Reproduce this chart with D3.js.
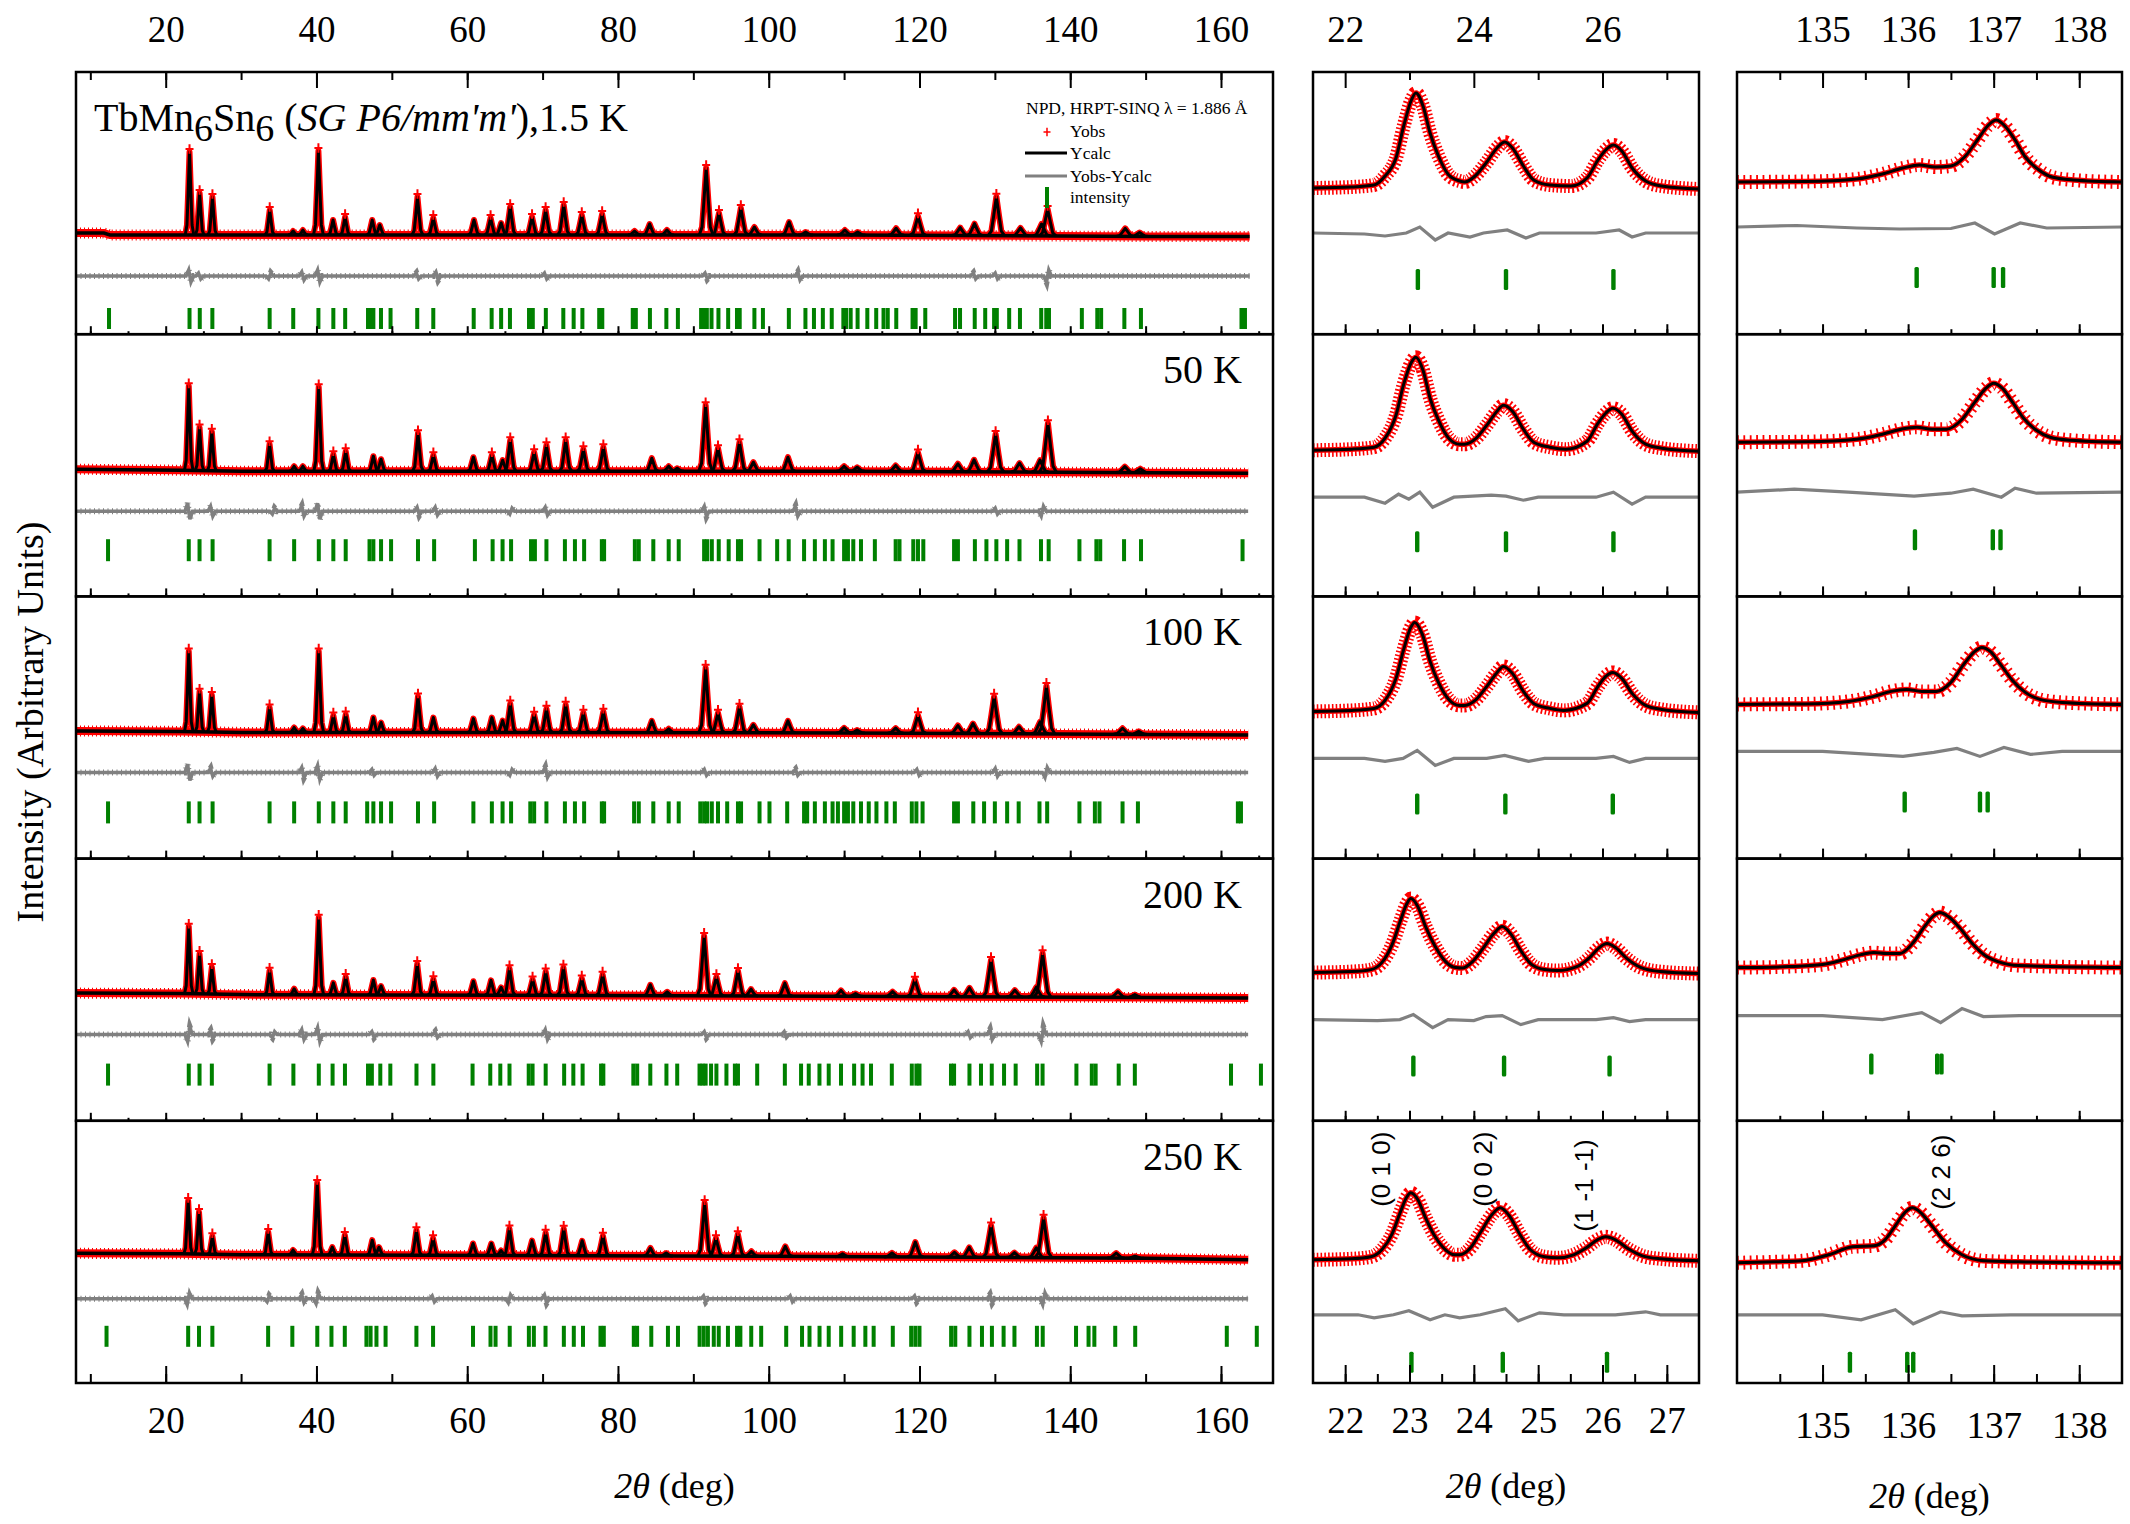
<!DOCTYPE html>
<html>
<head>
<meta charset="utf-8">
<script src="https://cdn.jsdelivr.net/npm/d3@7"></script>
<style>
  body { margin: 0; background: #fff; }
  svg { display: block; }
  text { font-family: "Liberation Serif", "Times New Roman", serif; fill: #000; }
</style>
</head>
<body>
<svg id="chart" width="2130" height="1524"></svg>
<script>
// ---------- data (intensities in arbitrary units, angles in degrees) ----------
const temps = ['1.5 K', '50 K', '100 K', '200 K', '250 K'];

// full-range patterns: [2theta, peak height above background]
const peaks1 = [[23.16,83],[24.5,42],[26.2,38],[33.8,25],[36.9,4],[38.2,5],[40.26,84],[42.2,15],[43.8,18],[47.4,15],[48.4,10],[53.4,38],[55.5,17],[60.9,15],[63.1,17],[64.5,12],[65.7,28],[68.6,18],[70.4,25],[72.8,30],[75.2,20],[77.9,21],[82.2,4],[84.2,11],[86.5,5],[91.7,67],[93.4,22],[96.3,27],[98.1,8],[102.7,13],[104.9,3],[110.1,5],[111.8,3],[116.9,7],[119.8,19],[125.4,8],[127.3,12],[130.2,39],[133.4,8],[136.2,12],[137.0,27],[147.3,8],[149.2,4]];
const peaks2 = [[23.06,84],[24.49,43],[26.12,39],[33.78,27],[37.04,5],[38.2,5],[40.3,84],[42.24,17],[43.88,20],[47.55,15],[48.57,12],[53.47,38],[55.51,16],[60.82,14],[63.27,16],[64.7,11],[65.71,31],[68.88,19],[70.51,26],[73.06,31],[75.41,22],[78.06,24],[84.49,13],[86.73,5],[87.86,3],[91.63,66],[93.27,23],[96.12,29],[97.96,9],[102.55,14],[110.0,5],[111.73,4],[116.84,6],[119.8,19],[125.1,8],[127.24,12],[130.1,38],[133.27,9],[136.0,12],[137.04,49],[147.24,6],[149.29,4]];
const peaks3 = [[23.06,80],[24.49,40],[26.12,37],[33.78,25],[37.04,5],[38.2,4],[40.3,81],[42.24,17],[43.88,18],[47.55,15],[48.57,10],[53.47,36],[55.51,15],[60.82,14],[63.27,15],[64.7,12],[65.71,29],[68.88,18],[70.51,24],[73.06,28],[75.41,20],[78.06,21],[84.49,12],[86.73,4],[91.63,65],[93.27,20],[96.12,26],[97.96,8],[102.55,12],[110.0,5],[111.73,3],[116.84,5],[119.8,18],[125.1,8],[127.1,10],[129.9,37],[133.2,7],[136.0,12],[136.84,48],[146.94,6],[149.08,3]];
const peaks4 = [[23.06,67],[24.49,40],[26.12,27],[33.78,24],[37.04,6],[40.3,77],[42.24,12],[43.88,18],[47.55,15],[48.57,9],[53.37,31],[55.51,16],[60.82,14],[63.16,15],[64.5,8],[65.61,27],[68.67,16],[70.41,24],[72.76,28],[75.2,17],[77.96,21],[84.29,11],[86.53,4],[91.43,60],[93.06,19],[95.92,25],[97.65,7],[102.14,13],[109.59,6],[111.53,3],[116.43,5],[119.39,17],[124.59,7],[126.63,9],[129.49,37],[132.65,7],[135.5,10],[136.33,44],[146.33,6],[148.57,3]];
const peaks5 = [[22.98,53],[24.42,42],[26.19,18],[33.6,23],[36.9,5],[40.1,72],[42.1,8],[43.76,20],[47.4,15],[48.3,8],[53.26,25],[55.47,17],[60.77,12],[63.2,12],[64.5,5],[65.6,27],[68.6,15],[70.4,23],[72.8,27],[75.25,15],[78.0,20],[84.3,8],[86.4,3],[91.5,53],[93.0,18],[95.9,22],[97.7,5],[102.2,10],[109.8,3],[116.35,4],[119.45,15],[124.64,5],[126.6,10],[129.5,32],[132.6,5],[135.5,10],[136.46,40],[146.1,5],[148.6,2]];

// background level along 2theta
const bg1 = [[8.1,2],[11.8,2],[12.6,0],[110,0],[150,-1.5],[163.8,-1.5]];
const bg2 = [[8.1,2],[22,1],[30,0],[110,0],[150,-1.5],[163.6,-2]];
const bg3 = [[8.1,1.5],[22,1],[30,0],[110,-0.5],[150,-2],[163.6,-2.5]];
const bg4 = [[8.1,1.5],[22,1],[30,0],[100,-1.5],[150,-3],[163.6,-3.5]];
const bg5 = [[8.1,1.5],[22,1],[30,0],[100,-1.5],[150,-3.5],[163.6,-5]];

// largest Yobs-Ycalc excursions: [2theta, amplitude]
const diff1 = [[23.2,6],[24.5,3],[33.8,-3],[38.2,4],[40.3,6],[53.4,3],[56,4],[70.4,3],[91.7,3],[104,4],[127.3,3],[130.2,3],[137,-6]];
const diff2 = [[23.06,8],[26.1,5],[34.3,-3],[38.2,5],[40.3,8],[53.5,4],[55.9,4],[65.8,-3],[70.5,4],[91.6,5],[103.7,5],[130.2,3],[136.3,-5]];
const diff3 = [[23.06,8],[26.1,4],[38.2,5],[40.3,7],[47.5,3],[55.9,4],[65.8,-3],[70.5,5],[91.6,3],[103.7,3],[119.8,3],[130.2,4],[136.8,-5]];
const diff4 = [[23.06,-7],[26.1,4],[34.3,-3],[38.2,5],[40.3,7],[47.5,3],[55.9,3],[70.5,5],[91.6,3],[102.2,3],[126.6,3],[129.5,5],[136.3,-7]];
const diff5 = [[23.0,-6],[33.6,-3],[38.2,4],[40.1,-5],[55.5,3],[65.6,-4],[70.4,4],[91.5,3],[103,3],[119.5,3],[129.5,4],[136.5,-6]];

// Bragg reflection positions
const refl1 = [12.48,23.16,24.52,26.19,33.79,36.92,40.26,42.24,43.81,46.84,47.2,47.55,48.56,49.83,53.37,55.5,60.86,63.24,64.5,65.67,68.2,68.7,70.43,72.75,74.12,75.28,77.51,77.92,81.96,82.37,84.24,86.42,87.95,91.03,91.38,91.79,92.41,93.33,94.62,95.79,96.15,98.1,99.23,102.67,104.87,106.0,107.18,108.36,109.9,110.26,110.87,111.79,113.08,114.26,115.23,115.79,116.92,119.08,119.49,120.77,124.72,125.38,127.33,128.72,129.9,130.26,131.9,133.33,136.15,136.82,137.18,141.54,143.59,144.1,147.18,149.38,162.72,163.18];
const refl2 = [12.35,23.06,24.49,26.22,33.78,37.04,40.31,42.24,43.88,47.04,47.55,48.57,49.9,53.47,55.61,61.02,63.37,64.69,65.82,68.47,68.98,70.51,72.96,74.29,75.51,77.86,78.16,82.24,82.76,84.69,86.73,88.06,91.43,91.84,92.45,93.37,94.69,95.92,96.33,98.78,101.12,102.65,104.69,106.12,107.45,108.47,110.0,110.51,111.22,112.24,114.08,116.84,117.35,119.18,119.8,120.51,124.59,125.1,127.35,128.88,130.2,131.63,133.27,136.12,137.14,141.22,143.47,143.98,147.14,149.39,162.86];
const refl3 = [12.35,23.06,24.49,26.22,33.78,37.04,40.31,42.24,43.88,46.73,47.55,48.57,49.9,53.47,55.61,60.82,63.27,64.69,65.82,68.37,68.88,70.51,72.96,74.29,75.51,77.86,78.16,82.14,82.76,84.69,86.73,88.06,90.92,91.43,91.84,92.45,93.27,94.49,95.92,96.33,98.78,100.1,102.45,104.69,105.1,106.12,107.45,108.47,109.18,110.0,110.51,111.22,112.24,113.27,114.29,115.61,116.73,118.98,119.59,120.41,124.59,125.1,127.14,128.57,130.0,131.63,133.16,135.92,136.94,141.22,143.27,143.88,146.94,148.98,162.24,162.65];
const refl4 = [12.35,23.06,24.49,26.12,33.78,36.94,40.31,42.14,43.78,46.84,47.35,48.47,49.8,53.27,55.51,60.71,63.06,64.39,65.61,68.16,68.67,70.41,72.86,74.08,75.31,77.76,78.06,82.04,82.55,84.29,86.43,87.86,90.82,91.22,91.63,92.35,93.06,94.39,95.51,95.92,98.47,102.14,104.29,105.31,106.73,107.96,109.59,111.33,112.45,113.57,116.33,118.98,119.59,120.0,124.18,124.59,126.63,128.16,129.59,131.22,132.76,135.61,136.33,140.82,142.86,143.37,146.43,148.57,161.33,165.3];
const refl5 = [12.15,22.98,24.42,26.19,33.59,36.8,40.11,41.99,43.76,46.63,47.18,47.96,49.17,53.26,55.47,60.77,63.09,63.76,65.64,68.18,68.84,70.39,72.82,74.14,75.36,77.68,78.12,82.1,82.54,84.42,86.63,87.96,90.83,91.38,91.93,92.71,93.37,94.59,95.8,96.24,97.68,99.0,102.32,104.42,105.41,106.74,107.96,109.61,111.27,112.82,113.92,116.46,118.9,119.45,120.0,124.2,124.75,126.63,128.29,129.61,131.16,132.6,135.58,136.35,140.77,142.43,143.2,145.97,148.62,160.77,164.75];

// zoom 21.5-27.5 deg: [2theta, intensity above background]
const mid1 = [[21.5,0],[22.1,1],[22.45,3],[22.62,12],[22.79,30],[22.91,62],[23.03,88],[23.1,95],[23.21,82],[23.32,55],[23.45,32],[23.61,13],[23.78,7],[23.86,6],[24.02,12],[24.19,25],[24.36,40],[24.48,46],[24.6,40],[24.77,22],[24.93,8],[25.18,3],[25.51,2],[25.76,10],[25.93,28],[26.05,38],[26.17,43],[26.3,37],[26.46,20],[26.67,7],[26.92,2],[27.5,-1]];
const mid2 = [[21.5,0],[22.1,1],[22.45,3],[22.62,12],[22.79,35],[22.91,66],[23.03,88],[23.1,93],[23.21,80],[23.32,52],[23.45,30],[23.61,12],[23.78,6],[23.86,6],[24.02,11],[24.19,24],[24.36,39],[24.46,45],[24.6,39],[24.77,21],[24.93,8],[25.18,3],[25.43,1],[25.76,9],[25.93,27],[26.05,37],[26.16,42],[26.3,36],[26.46,19],[26.67,6],[26.92,2],[27.5,-1]];
const mid3 = [[21.5,0],[22.1,1],[22.45,3],[22.62,11],[22.79,33],[22.91,62],[23.02,84],[23.08,89],[23.2,77],[23.32,50],[23.45,29],[23.61,12],[23.78,6],[23.86,6],[24.02,11],[24.19,24],[24.35,38],[24.46,45],[24.6,38],[24.77,20],[24.93,8],[25.18,3],[25.4,1],[25.76,8],[25.93,25],[26.05,35],[26.16,39],[26.3,33],[26.46,18],[26.67,6],[26.92,2],[27.5,-1]];
const mid4 = [[21.5,0],[22.1,1],[22.4,3],[22.57,10],[22.73,28],[22.86,52],[22.96,69],[23.02,74],[23.13,66],[23.25,46],[23.4,26],[23.56,11],[23.72,5],[23.82,4.5],[23.98,11],[24.14,24],[24.31,39],[24.44,46],[24.57,39],[24.74,21],[24.9,8],[25.1,3],[25.3,2],[25.6,6],[25.8,15],[25.95,25],[26.07,29],[26.2,25],[26.38,14],[26.6,5],[26.9,1],[27.5,-1]];
const mid5 = [[21.5,0],[22.1,1],[22.4,3],[22.57,10],[22.73,26],[22.86,48],[22.96,63],[23.02,67],[23.13,60],[23.25,42],[23.4,23],[23.56,10],[23.7,5],[23.78,5],[23.95,12],[24.1,27],[24.28,45],[24.41,52],[24.54,45],[24.72,25],[24.88,10],[25.1,3],[25.3,2],[25.55,5],[25.75,12],[25.92,20],[26.05,23],[26.2,20],[26.4,11],[26.62,4],[26.9,1],[27.5,-1]];
const midDiff1 = [[21.5,0],[22.3,-1],[22.62,-3],[22.95,0],[23.16,6],[23.4,-7],[23.6,0],[23.94,-4],[24.15,0],[24.52,3],[24.81,-5],[25.02,0],[25.9,0],[26.26,3],[26.46,-4],[26.67,0],[27.5,0]];
const midDiff2 = [[21.5,0],[22.3,0],[22.62,-6],[22.83,3],[22.99,-2],[23.16,5],[23.36,-10],[23.69,0],[24.27,2],[24.5,1],[24.77,-3],[25.0,0],[25.9,0],[26.17,5],[26.46,-7],[26.67,0],[27.5,0]];
const midDiff3 = [[21.5,0],[22.3,0],[22.62,-3],[22.9,0],[23.12,8],[23.4,-7],[23.69,0],[24.2,0],[24.48,3],[24.85,-3],[25.1,0],[25.9,0],[26.17,2],[26.42,-4],[26.67,0],[27.5,0]];
const midDiff4 = [[21.5,0],[22.5,-1],[22.85,0],[23.06,5],[23.36,-8],[23.6,0],[24.0,-1],[24.19,3],[24.44,4],[24.73,-5],[25.0,0],[25.9,0],[26.17,2],[26.42,-2],[26.67,0],[27.5,0]];
const midDiff5 = [[21.5,0],[22.2,0],[22.45,-3],[22.75,0],[22.99,4],[23.32,-5],[23.55,0],[23.78,-3],[24.1,0],[24.49,6],[24.69,-6],[25.02,2],[25.4,0],[26.2,0],[26.67,3],[26.9,0],[27.5,0]];
const midRefl = [[23.13,24.5,26.17],[23.12,24.5,26.17],[23.12,24.49,26.16],[23.06,24.47,26.11],[23.03,24.45,26.07]];

// zoom 134-138.5 deg
const rt1 = [[134,0],[134.8,0.5],[135.4,3],[135.7,8],[135.94,14],[136.13,17],[136.32,15],[136.5,16],[136.66,25],[136.81,42],[136.94,57],[137.03,62],[137.12,57],[137.25,42],[137.37,25],[137.53,12],[137.68,5],[137.93,2],[138.5,0]];
const rt2 = [[134,0],[134.8,0.5],[135.4,3],[135.7,8],[135.92,13],[136.1,15],[136.28,13],[136.45,13],[136.62,22],[136.78,40],[136.91,54],[137.0,59],[137.1,54],[137.22,40],[137.35,24],[137.5,12],[137.66,5],[137.9,2],[138.5,0]];
const rt3 = [[134,0],[134.8,0.5],[135.3,3],[135.6,8],[135.8,13],[135.98,15],[136.16,13],[136.33,13],[136.5,22],[136.65,40],[136.78,53],[136.86,57],[136.96,53],[137.08,40],[137.22,24],[137.37,12],[137.54,5],[137.8,2],[138.5,0]];
const rt4 = [[134,0],[134.6,1],[135.0,3],[135.25,8],[135.45,13],[135.6,15],[135.75,14],[135.9,14],[136.05,24],[136.2,42],[136.3,52],[136.37,55],[136.47,51],[136.6,40],[136.75,24],[136.9,12],[137.05,6],[137.3,2],[138.5,0]];
const rt5 = [[134,0],[134.45,1],[134.76,2],[135.07,8],[135.35,16],[135.6,17],[135.73,23],[135.85,37],[135.97,51],[136.05,55],[136.15,50],[136.25,40],[136.44,20],[136.63,8],[136.88,2],[137.3,1],[138.5,0]];
const rtDiff1 = [[134,0],[134.7,1.5],[135.4,-1],[135.9,-2],[136.5,-1.5],[136.78,4],[137.01,-7],[137.31,4],[137.62,-1],[138.5,0]];
const rtDiff2 = [[134,0],[134.67,3],[135.3,0],[136.07,-4],[136.5,-1],[136.76,3],[137.09,-5],[137.25,4],[137.5,-1],[138.5,0]];
const rtDiff3 = [[134,0],[135,0],[135.94,-5],[136.3,-1],[136.57,3],[136.84,-5],[137.12,4],[137.43,-3],[137.8,0],[138.5,0]];
const rtDiff4 = [[134,0],[135,0],[135.7,-4],[136.16,3],[136.38,-7],[136.63,7],[136.88,-1],[137.3,0],[138.5,0]];
const rtDiff5 = [[134,0],[135,0],[135.45,-5],[135.85,5],[136.06,-9],[136.38,3],[136.63,-1],[137.2,0],[138.5,0]];
const rtRefl = [[136.1,137.0,137.11],[136.08,136.99,137.08],[135.96,136.84,136.93],[135.57,136.34,136.39],[135.32,135.99,136.06]];

const hklMid = ['(0 1 0)', '(0 0 2)', '(1 -1 -1)'];
const hklRight = ['(2 2 6)'];

// ---------- layout ----------
const RED = '#ff0000', GREY = '#808080', GREEN = '#008000';
const ROW_TOP = 72, ROW_H = 262.2;
const rowTop = r => ROW_TOP + r * ROW_H;

const LEFT = { x: [76, 1273], dom: [8.1, 166.9], base: [163,137,136,136,134], res: [204,177,176,176,178],
               tk: [[236,257],[205,227],[205,227],[205,227],[205,226]] };
const MID = { x: [1313, 1699], dom: [21.5, 27.5], base: [116,116,115,114,139], res: [161,163,162,161,194],
              tk: [[197,218],[197,218],[197,218],[197,218],[231,252]] };
const RIGHT = { x: [1737, 2122], dom: [134, 138.5], base: [110,108,108,109,142], res: [155,158,155,157,194],
                tk: [[195,216],[195,216],[195,216],[195,216],[231,252]] };

const rows = [
  { peaks: peaks1, bg: bg1, diff: diff1, refl: refl1, mid: mid1, midDiff: midDiff1, rt: rt1, rtDiff: rtDiff1 },
  { peaks: peaks2, bg: bg2, diff: diff2, refl: refl2, mid: mid2, midDiff: midDiff2, rt: rt2, rtDiff: rtDiff2 },
  { peaks: peaks3, bg: bg3, diff: diff3, refl: refl3, mid: mid3, midDiff: midDiff3, rt: rt3, rtDiff: rtDiff3 },
  { peaks: peaks4, bg: bg4, diff: diff4, refl: refl4, mid: mid4, midDiff: midDiff4, rt: rt4, rtDiff: rtDiff4 },
  { peaks: peaks5, bg: bg5, diff: diff5, refl: refl5, mid: mid5, midDiff: midDiff5, rt: rt5, rtDiff: rtDiff5 }
];

const svg = d3.select('#chart');

const xL = d3.scaleLinear().domain(LEFT.dom).range(LEFT.x);
const xM = d3.scaleLinear().domain(MID.dom).range(MID.x);
const xR = d3.scaleLinear().domain(RIGHT.dom).range(RIGHT.x);

// y scale of one row: background (0) sits "base" px below row top
function rowScale(r, base) {
  const t = rowTop(r);
  return d3.scaleLinear().domain([base - ROW_H, base]).range([t + ROW_H, t]);
}

// clip paths per panel
[['clipL', LEFT], ['clipM', MID], ['clipR', RIGHT]].forEach(([id, p]) => {
  svg.append('clipPath').attr('id', id).append('rect')
    .attr('x', p.x[0]).attr('y', ROW_TOP).attr('width', p.x[1] - p.x[0]).attr('height', ROW_H * 5);
});

// peak profile used for the stick-like peaks of the wide panel
const SHAPE = [[-1,0],[-0.6,0.12],[-0.33,0.5],[0,1],[0.33,0.5],[0.6,0.12],[1,0]];
const halfWidth = p => 0.55 + 0.005 * (p - 20);

const crossPath = s => `M${-s},0H${s}M0,${-s * 1.2}V${s * 1.2}`;

function drawLeft(r) {
  const row = rows[r];
  const y = rowScale(r, LEFT.base[r]);
  const g = svg.append('g').attr('clip-path', 'url(#clipL)');
  const bgFn = d3.scaleLinear().domain(row.bg.map(d => d[0])).range(row.bg.map(d => d[1]));
  const line = d3.line().x(d => xL(d[0])).y(d => y(d[1]));
  const spike = p => SHAPE.map(s => {
    const t = p[0] + s[0] * halfWidth(p[0]);
    return [t, bgFn(t) + s[1] * p[1]];
  });

  // Yobs (red band of crosses)
  g.append('path').datum(row.bg).attr('d', line)
    .attr('fill', 'none').attr('stroke', RED).attr('stroke-width', 8);
  g.append('path').datum(row.bg).attr('d', line)
    .attr('fill', 'none').attr('stroke', RED).attr('stroke-width', 11)
    .attr('stroke-dasharray', '1,3');
  g.selectAll('.obs').data(row.peaks).join('path').attr('class', 'obs')
    .attr('d', p => line(spike(p))).attr('fill', 'none')
    .attr('stroke', RED).attr('stroke-width', 6).attr('stroke-linejoin', 'round');

  // Ycalc
  g.append('path').datum(row.bg).attr('d', line)
    .attr('fill', 'none').attr('stroke', '#000').attr('stroke-width', 3.5);
  g.selectAll('.calc').data(row.peaks).join('path').attr('class', 'calc')
    .attr('d', p => line(spike(p))).attr('fill', 'none')
    .attr('stroke', '#000').attr('stroke-width', 3).attr('stroke-linejoin', 'round');

  // red crosses on the peak tops
  g.selectAll('.top').data(row.peaks.filter(p => p[1] > 15)).join('path').attr('class', 'top')
    .attr('transform', p => `translate(${xL(p[0])},${y(bgFn(p[0]) + p[1]) - 3})`)
    .attr('d', crossPath(4)).attr('stroke', RED).attr('stroke-width', 2);

  // Yobs - Ycalc
  const lvl = LEFT.base[r] - LEFT.res[r];
  const dpts = [[LEFT.dom[0], 0]];
  row.diff.slice().sort((a, b) => a[0] - b[0]).forEach(([p, a]) => {
    dpts.push([p - 0.5, 0], [p - 0.15, a], [p + 0.15, -a], [p + 0.5, 0]);
  });
  dpts.push([row.bg[row.bg.length - 1][0], 0]);
  const dline = d3.line().x(d => xL(d[0])).y(d => y(lvl + d[1]));
  g.append('path').datum(dpts).attr('d', dline)
    .attr('fill', 'none').attr('stroke', GREY).attr('stroke-width', 3.5);
  g.append('path').datum(dpts).attr('d', dline)
    .attr('fill', 'none').attr('stroke', GREY).attr('stroke-width', 6)
    .attr('stroke-dasharray', '1,3.5');

  // Bragg positions
  const [t0, t1] = LEFT.tk[r];
  g.selectAll('.refl').data(row.refl).join('rect').attr('class', 'refl')
    .attr('x', d => xL(d) - 2).attr('width', 4)
    .attr('y', rowTop(r) + t0).attr('height', t1 - t0).attr('fill', GREEN);
}

function drawZoom(r, P, x, prof, diff, refl, dash) {
  const y = rowScale(r, P.base[r]);
  const g = svg.append('g').attr('clip-path', P === MID ? 'url(#clipM)' : 'url(#clipR)');
  const line = d3.line().x(d => x(d[0])).y(d => y(d[1])).curve(d3.curveMonotoneX);

  // Yobs crosses: thin band plus perpendicular bars
  g.append('path').datum(prof).attr('d', line).attr('fill', 'none')
    .attr('stroke', RED).attr('stroke-width', 5.5);
  g.append('path').datum(prof).attr('d', line).attr('fill', 'none')
    .attr('stroke', RED).attr('stroke-width', 14).attr('stroke-dasharray', dash);
  // Ycalc
  g.append('path').datum(prof).attr('d', line).attr('fill', 'none')
    .attr('stroke', '#000').attr('stroke-width', 3);

  const lvl = P.base[r] - P.res[r];
  g.append('path').datum(diff)
    .attr('d', d3.line().x(d => x(d[0])).y(d => y(lvl + d[1])))
    .attr('fill', 'none').attr('stroke', GREY).attr('stroke-width', 3.2);

  const [t0, t1] = P.tk[r];
  g.selectAll('.refl').data(refl).join('rect').attr('class', 'refl')
    .attr('x', d => x(d) - 2.2).attr('width', 4.4)
    .attr('y', rowTop(r) + t0).attr('height', t1 - t0).attr('rx', 1.5).attr('fill', GREEN);
}

// axis helper: ticks point into the frame
function axis(orient, x, yPos, values, len, labels, pad) {
  const ax = (orient === 'top' ? d3.axisTop(x) : d3.axisBottom(x))
    .tickValues(values).tickSizeInner(-len).tickSizeOuter(0).tickPadding(pad)
    .tickFormat(labels ? d3.format('d') : () => '');
  const g = svg.append('g').attr('transform', `translate(0,${yPos})`).call(ax);
  g.select('.domain').remove();
  g.selectAll('line').attr('stroke', '#000').attr('stroke-width', 2);
  g.attr('font-family', null).attr('font-size', null);
  g.selectAll('text').attr('font-size', 37).attr('fill', '#000');
  return g;
}

const inner = (d, p) => d > p.dom[0] + 1e-6 && d < p.dom[1] - 1e-6;

// ---------- rows ----------
for (let r = 0; r < 5; r++) {
  drawLeft(r);
  drawZoom(r, MID, xM, rows[r].mid, rows[r].midDiff, midRefl[r], '1.6,2.2');
  drawZoom(r, RIGHT, xR, rows[r].rt, rows[r].rtDiff, rtRefl[r], '1.8,4.6');

  const bot = rowTop(r + 1);
  if (r < 4) {
    axis('bottom', xL, bot, d3.range(10, 166, 10), 8, false, 0);
    axis('bottom', xL, bot, d3.range(10, 166, 5), 3, false, 0);
    axis('bottom', xM, bot, d3.range(22, 28, 1), 10, false, 0);
    axis('bottom', xM, bot, d3.range(21.5, 27.6, 0.5).filter(d => inner(d, MID)), 5, false, 0);
    axis('bottom', xR, bot, d3.range(135, 139, 1), 10, false, 0);
    axis('bottom', xR, bot, d3.range(134, 138.6, 0.5).filter(d => inner(d, RIGHT)), 5, false, 0);
  }
}

// top axes (with labels)
const topY = ROW_TOP;
axis('top', xL, topY, d3.range(10, 166, 10), 8, false, 30);
axis('top', xL, topY, d3.range(20, 161, 20), 16, true, 30);
axis('top', xM, topY, [23, 25, 27], 8, false, 30);
axis('top', xM, topY, [22, 24, 26], 16, true, 30);
axis('top', xR, topY, d3.range(134, 138.6, 0.5).filter(d => inner(d, RIGHT)), 8, false, 30);
axis('top', xR, topY, [135, 136, 137, 138], 16, true, 30);

// bottom axes (with labels)
const bottomY = rowTop(5);
axis('bottom', xL, bottomY, d3.range(10, 166, 10), 9, false, 24);
axis('bottom', xL, bottomY, d3.range(20, 161, 20), 17, true, 24);
axis('bottom', xM, bottomY, d3.range(21.5, 27.6, 0.5).filter(d => inner(d, MID)), 9, false, 24);
axis('bottom', xM, bottomY, d3.range(22, 28, 1), 18, true, 24);
axis('bottom', xR, bottomY, d3.range(134, 138.6, 0.5).filter(d => inner(d, RIGHT)), 9, false, 29);
axis('bottom', xR, bottomY, [135, 136, 137, 138], 18, true, 29);

// frames
[LEFT, MID, RIGHT].forEach(p => {
  svg.append('g').selectAll('rect').data(d3.range(5)).join('rect')
    .attr('x', p.x[0]).attr('y', r => rowTop(r))
    .attr('width', p.x[1] - p.x[0]).attr('height', ROW_H)
    .attr('fill', 'none').attr('stroke', '#000').attr('stroke-width', 2.5);
});

// ---------- texts ----------
const title = svg.append('text').attr('x', 94).attr('y', 131).attr('font-size', 40);
title.append('tspan').text('TbMn');
title.append('tspan').attr('dy', 10).attr('font-size', 38).text('6');
title.append('tspan').attr('dy', -10).text('Sn');
title.append('tspan').attr('dy', 10).attr('font-size', 38).text('6');
title.append('tspan').attr('dy', -10).text(' (');
title.append('tspan').attr('font-style', 'italic').text("SG P6/mm'm'");
title.append('tspan').text('),' + temps[0]);

svg.selectAll('.temp').data(temps.slice(1)).join('text').attr('class', 'temp')
  .attr('x', 1242).attr('y', (d, i) => rowTop(i + 1) + 49)
  .attr('text-anchor', 'end').attr('font-size', 40).text(d => d);

// legend
const lg = svg.append('g');
lg.append('text').attr('x', 1026).attr('y', 114).attr('font-size', 17.5)
  .text('NPD, HRPT-SINQ \u03bb = 1.886 \u00c5');
lg.append('path').attr('transform', 'translate(1047,132)').attr('d', crossPath(3.5))
  .attr('stroke', RED).attr('stroke-width', 1.5);
lg.append('line').attr('x1', 1025).attr('x2', 1067).attr('y1', 153).attr('y2', 153)
  .attr('stroke', '#000').attr('stroke-width', 3);
lg.append('line').attr('x1', 1025).attr('x2', 1067).attr('y1', 176).attr('y2', 176)
  .attr('stroke', GREY).attr('stroke-width', 3);
lg.append('rect').attr('x', 1045).attr('y', 187).attr('width', 4).attr('height', 21).attr('fill', GREEN);
['Yobs', 'Ycalc', 'Yobs-Ycalc', 'intensity'].forEach((t, i) => {
  lg.append('text').attr('x', 1070).attr('y', [137, 159, 182, 203][i]).attr('font-size', 17.5).text(t);
});

// Miller indices
const hklPos = [[22.55, 86], [24.15, 86], [25.72, 111]];
hklMid.forEach((t, i) => {
  const px = xM(hklPos[i][0]) + 9, py = rowTop(4) + hklPos[i][1];
  svg.append('text').attr('transform', `translate(${px},${py}) rotate(-90)`)
    .style('font-family', '"Liberation Sans", Arial, sans-serif').attr('font-size', 26).text(t);
});
hklRight.forEach(t => {
  const px = xR(136.39) + 9, py = rowTop(4) + 89;
  svg.append('text').attr('transform', `translate(${px},${py}) rotate(-90)`)
    .style('font-family', '"Liberation Sans", Arial, sans-serif').attr('font-size', 26).text(t);
});

// axis titles
function xTitle(cx, yb) {
  const t = svg.append('text').attr('x', cx).attr('y', yb).attr('text-anchor', 'middle').attr('font-size', 36);
  t.append('tspan').attr('font-style', 'italic').text('2\u03b8');
  t.append('tspan').text(' (deg)');
}
xTitle((LEFT.x[0] + LEFT.x[1]) / 2, 1498);
xTitle((MID.x[0] + MID.x[1]) / 2, 1498);
xTitle((RIGHT.x[0] + RIGHT.x[1]) / 2, 1508);

svg.append('text').attr('transform', 'translate(43,722) rotate(-90)')
  .attr('text-anchor', 'middle').attr('font-size', 38).text('Intensity (Arbitrary Units)');
</script>
</body>
</html>
